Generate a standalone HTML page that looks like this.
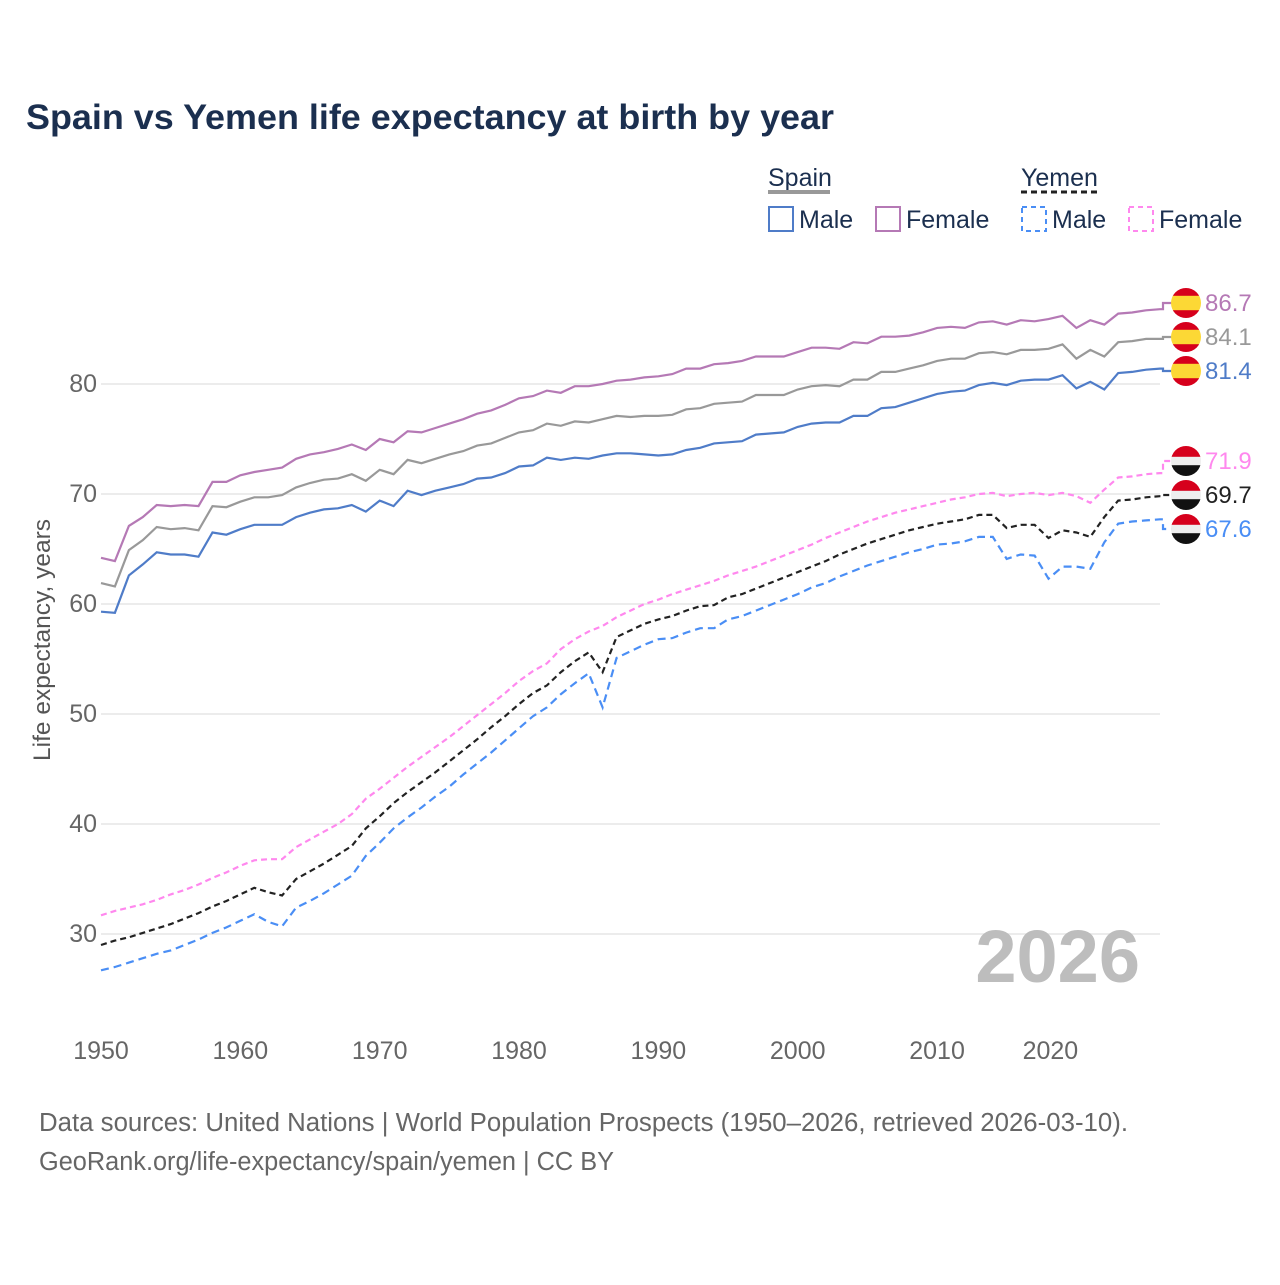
<!DOCTYPE html>
<html><head><meta charset="utf-8"><style>
body{margin:0;background:#fff;width:1280px;height:1280px;overflow:hidden;font-family:"Liberation Sans",sans-serif}
svg text{font-family:"Liberation Sans",sans-serif}
</style></head><body>
<svg id="chart" width="1280" height="1280" xmlns="http://www.w3.org/2000/svg">
<text x="26" y="129" font-size="35" font-weight="bold" fill="#1b2f4f" textLength="808" lengthAdjust="spacingAndGlyphs">Spain vs Yemen life expectancy at birth by year</text>
<g font-size="25" fill="#1b2f4f">
<text x="768" y="186" fill="#1b2f4f">Spain</text>
<line x1="768" y1="192" x2="830" y2="192" stroke="#999" stroke-width="4"/>
<text x="1021" y="186" fill="#1b2f4f">Yemen</text>
<line x1="1021" y1="192" x2="1098" y2="192" stroke="#222" stroke-width="3" stroke-dasharray="6,4"/>
<g><rect x="769" y="207" width="24" height="24" fill="none" stroke="#4f7cc8" stroke-width="2"/><text x="799" y="228">Male</text></g>
<g><rect x="876" y="207" width="24" height="24" fill="none" stroke="#b579b5" stroke-width="2"/><text x="906" y="228">Female</text></g>
<g><rect x="1022" y="207" width="24" height="24" fill="none" stroke="#4a8ef5" stroke-width="2" stroke-dasharray="5,4"/><text x="1052" y="228">Male</text></g>
<g><rect x="1129" y="207" width="24" height="24" fill="none" stroke="#ff88ee" stroke-width="2" stroke-dasharray="5,4"/><text x="1159" y="228">Female</text></g>
</g>
<text transform="translate(50,640) rotate(-90)" text-anchor="middle" font-size="24.5" fill="#555">Life expectancy, years</text>
<g id="grid"></g><g id="series"></g><g id="endlabels"></g>
<text x="1140" y="982" text-anchor="end" font-size="74" font-weight="bold" fill="#bdbdbd">2026</text>
<text x="39" y="1131" font-size="25.5" fill="#666" textLength="1089" lengthAdjust="spacingAndGlyphs">Data sources: United Nations | World Population Prospects (1950–2026, retrieved 2026-03-10).</text>
<text x="39" y="1170" font-size="25.5" fill="#666" textLength="575" lengthAdjust="spacingAndGlyphs">GeoRank.org/life-expectancy/spain/yemen | CC BY</text>
</svg>
<script>
const yTicks=[30,40,50,60,70,80];
const xTicks=[1950,1960,1970,1980,1990,2000,2010,2020];
const spainMale=[59.3,59.2,62.6,63.6,64.7,64.5,64.5,64.3,66.5,66.3,66.8,67.2,67.2,67.2,67.9,68.3,68.6,68.7,69.0,68.4,69.4,68.9,70.3,69.9,70.3,70.6,70.9,71.4,71.5,71.9,72.5,72.6,73.3,73.1,73.3,73.2,73.5,73.7,73.7,73.6,73.5,73.6,74.0,74.2,74.6,74.7,74.8,75.4,75.5,75.6,76.1,76.4,76.5,76.5,77.1,77.1,77.8,77.9,78.3,78.7,79.1,79.3,79.4,79.9,80.1,79.9,80.3,80.4,80.4,80.8,79.6,80.2,79.5,81.0,81.1,81.3,81.4];
const spainTotal=[61.9,61.6,64.9,65.8,67.0,66.8,66.9,66.7,68.9,68.8,69.3,69.7,69.7,69.9,70.6,71.0,71.3,71.4,71.8,71.2,72.2,71.8,73.1,72.8,73.2,73.6,73.9,74.4,74.6,75.1,75.6,75.8,76.4,76.2,76.6,76.5,76.8,77.1,77.0,77.1,77.1,77.2,77.7,77.8,78.2,78.3,78.4,79.0,79.0,79.0,79.5,79.8,79.9,79.8,80.4,80.4,81.1,81.1,81.4,81.7,82.1,82.3,82.3,82.8,82.9,82.7,83.1,83.1,83.2,83.6,82.3,83.1,82.5,83.8,83.9,84.1,84.1];
const spainFemale=[64.2,63.9,67.1,67.9,69.0,68.9,69.0,68.9,71.1,71.1,71.7,72.0,72.2,72.4,73.2,73.6,73.8,74.1,74.5,74.0,75.0,74.7,75.7,75.6,76.0,76.4,76.8,77.3,77.6,78.1,78.7,78.9,79.4,79.2,79.8,79.8,80.0,80.3,80.4,80.6,80.7,80.9,81.4,81.4,81.8,81.9,82.1,82.5,82.5,82.5,82.9,83.3,83.3,83.2,83.8,83.7,84.3,84.3,84.4,84.7,85.1,85.2,85.1,85.6,85.7,85.4,85.8,85.7,85.9,86.2,85.1,85.8,85.4,86.4,86.5,86.7,86.8];
const yemenMale=[26.7,27.0,27.4,27.8,28.2,28.5,29.0,29.5,30.1,30.6,31.2,31.8,31.1,30.7,32.4,33.0,33.7,34.5,35.3,37.1,38.3,39.6,40.6,41.5,42.5,43.4,44.5,45.5,46.5,47.6,48.7,49.8,50.6,51.8,52.8,53.7,50.6,55.1,55.7,56.3,56.8,56.9,57.4,57.8,57.8,58.6,58.9,59.4,59.9,60.4,60.9,61.5,61.9,62.5,63.0,63.5,63.9,64.3,64.7,65.0,65.4,65.5,65.7,66.1,66.1,64.1,64.5,64.4,62.3,63.4,63.4,63.2,65.6,67.3,67.5,67.6,67.7];
const yemenTotal=[29.0,29.4,29.7,30.1,30.5,30.9,31.4,31.9,32.5,33.0,33.6,34.2,33.8,33.5,35.0,35.7,36.4,37.2,38.0,39.6,40.7,41.9,42.9,43.8,44.7,45.7,46.7,47.7,48.8,49.8,50.9,51.9,52.6,53.8,54.8,55.6,53.8,57.0,57.6,58.2,58.6,58.9,59.4,59.8,59.9,60.6,60.9,61.4,61.9,62.4,62.9,63.4,63.9,64.5,65.0,65.5,65.9,66.3,66.7,67.0,67.3,67.5,67.7,68.1,68.1,66.9,67.2,67.2,66.0,66.7,66.5,66.1,67.9,69.4,69.5,69.7,69.8];
const yemenFemale=[31.7,32.1,32.4,32.7,33.1,33.6,34.0,34.5,35.1,35.6,36.2,36.7,36.8,36.8,37.9,38.6,39.3,40.0,40.9,42.3,43.2,44.2,45.2,46.1,47.0,47.9,48.9,49.9,50.9,51.9,53.0,53.9,54.6,55.9,56.8,57.5,58.0,58.8,59.4,60.0,60.4,60.9,61.3,61.7,62.1,62.6,63.0,63.4,63.9,64.4,64.9,65.4,66.0,66.5,67.0,67.5,67.9,68.3,68.6,68.9,69.2,69.5,69.7,70.0,70.1,69.8,70.0,70.1,69.9,70.1,69.8,69.2,70.4,71.5,71.6,71.8,71.9];
const endValues=["86.7","84.1","81.4","71.9","69.7","67.6"];
const NS="http://www.w3.org/2000/svg";
const X=yr=>101+(yr-1950)*(1059/76);
const Y=v=>384+(80-v)*11;
const grid=document.getElementById('grid');
yTicks.forEach(t=>{
 const l=document.createElementNS(NS,'line');
 
 
 l.setAttribute('x1',101);l.setAttribute('x2',1160);l.setAttribute('y1',Y(t));l.setAttribute('y2',Y(t));
 l.setAttribute('stroke','#e6e6e6');l.setAttribute('stroke-width','1.5');grid.appendChild(l);
 const tx=document.createElementNS(NS,'text');
 
 
 tx.setAttribute('x',97);tx.setAttribute('y',Y(t)+8);tx.setAttribute('text-anchor','end');
 tx.setAttribute('font-size','25');tx.setAttribute('fill','#666');tx.textContent=t;grid.appendChild(tx);
});
xTicks.forEach(t=>{
 const tx=document.createElementNS(NS,'text');
 
 
 tx.setAttribute('x',t===2020?X(t)-26:X(t));tx.setAttribute('y',1059);tx.setAttribute('text-anchor','middle');
 tx.setAttribute('font-size','25');tx.setAttribute('fill','#666');tx.textContent=t;grid.appendChild(tx);
});
const series=[
 {d:spainFemale,c:'#b579b5',dash:null,n:'spain-female',ly:303,flag:'es'},
 {d:spainTotal,c:'#999999',dash:null,n:'spain-total',ly:337,flag:'es'},
 {d:spainMale,c:'#4f7cc8',dash:null,n:'spain-male',ly:371,flag:'es'},
 {d:yemenFemale,c:'#ff88ee',dash:'6,4',n:'yemen-female',ly:461,flag:'ye'},
 {d:yemenTotal,c:'#222222',dash:'6,4',n:'yemen-total',ly:495,flag:'ye'},
 {d:yemenMale,c:'#4a8ef5',dash:'8,5',n:'yemen-male',ly:529,flag:'ye'}];
const sg=document.getElementById('series'),eg=document.getElementById('endlabels');
series.forEach((s,i)=>{
 const pts=s.d.map((v,k)=>X(1950+k).toFixed(1)+','+Y(v).toFixed(1));
 const lastY=Y(s.d[s.d.length-1]);
 const p=document.createElementNS(NS,'polyline');
 
 
 p.setAttribute('points',pts.join(' ')+' 1163,'+lastY.toFixed(1)+' 1163,'+s.ly+' 1172,'+s.ly);
 p.setAttribute('fill','none');p.setAttribute('stroke',s.c);p.setAttribute('stroke-width','2.2');
 if(s.dash)p.setAttribute('stroke-dasharray',s.dash);
 sg.appendChild(p);
 const g=document.createElementNS(NS,'g');
 
 
 const cx=1186,cy=s.ly,r=15;
 const cols=s.flag==='es'?[['#d6001c',0,0.26],['#fcd835',0.26,0.74],['#d6001c',0.74,1]]:[['#d6001c',0,0.36],['#eeeeee',0.36,0.64],['#111111',0.64,1]];
 const cid='clip'+i;
 const cp=document.createElementNS(NS,'clipPath');cp.setAttribute('id',cid);
 const cc=document.createElementNS(NS,'circle');cc.setAttribute('cx',cx);cc.setAttribute('cy',cy);cc.setAttribute('r',r);cp.appendChild(cc);g.appendChild(cp);
 cols.forEach(c=>{const rc=document.createElementNS(NS,'rect');rc.setAttribute('x',cx-r);rc.setAttribute('y',cy-r+c[1]*2*r);rc.setAttribute('width',2*r);rc.setAttribute('height',(c[2]-c[1])*2*r+0.5);rc.setAttribute('fill',c[0]);rc.setAttribute('clip-path','url(#'+cid+')');g.appendChild(rc);});
 eg.appendChild(g);
 const t=document.createElementNS(NS,'text');
 
 
 t.setAttribute('x',1205);t.setAttribute('y',s.ly+8);t.setAttribute('font-size','24');t.setAttribute('fill',s.c);
 t.textContent=endValues[i];eg.appendChild(t);
});
</script>
</body></html>
